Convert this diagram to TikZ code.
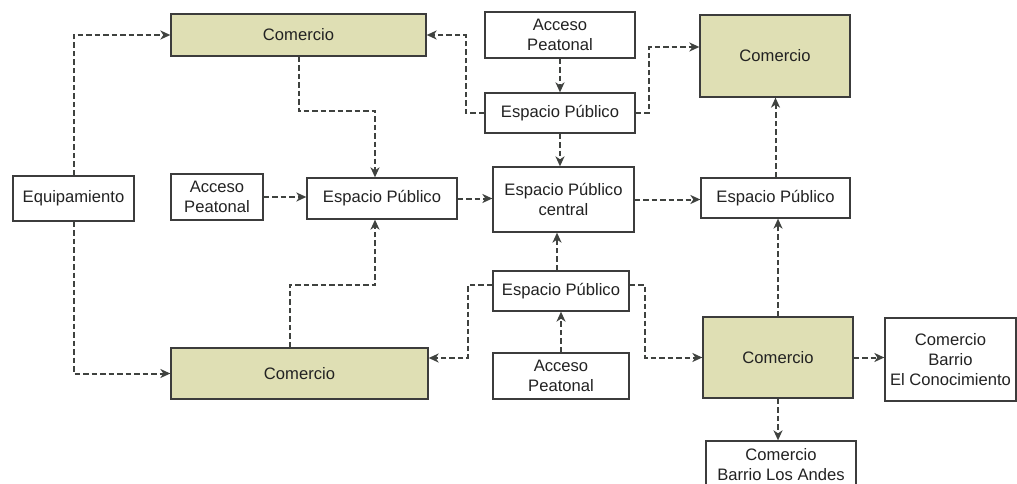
\documentclass[tikz,border=0pt]{standalone}
\usepackage{fontspec}
\setmainfont{Liberation Sans}
\usetikzlibrary{arrows.meta}
\definecolor{olivefill}{HTML}{DFDFB4}
\definecolor{edge}{HTML}{3C3C3C}
\definecolor{linkcol}{HTML}{3F423F}
\definecolor{txt}{HTML}{222222}
\tikzset{
  box/.style={draw=edge, line width=1.3pt, fill=white, text=txt, align=center,
    inner sep=0pt, font=\fontsize{16.6}{20}\selectfont},
  shop/.style={box, fill=olivefill},
  link/.style={draw=linkcol, line width=2pt, dash pattern=on 5.5pt off 3pt,
    -{Stealth[length=10pt, width=9pt, inset=3pt]}},
}
\newcommand{\bx}[6]{% style, name, cx, cy, w, h
  \node[#1, minimum width=#5pt, minimum height=#6pt] (#2) at (#3,#4)}
\begin{document}
\begin{tikzpicture}[x=1pt, y=-1pt]
\useasboundingbox (0,0) rectangle (1017,484);

% boxes
\bx{shop}{comTL}{298.5}{35}{255}{42} {Comercio};
\bx{box}{equip}{73.5}{198.5}{121}{45} {Equipamiento};
\bx{box}{accL}{217}{197}{92}{46} {Acceso\\Peatonal};
\bx{box}{epL}{382}{198.5}{150}{41} {Espacio Público};
\bx{box}{accT}{560}{35}{150}{46} {Acceso\\Peatonal};
\bx{box}{epT}{560}{113}{150}{40} {Espacio Público};
\bx{box}{central}{563.5}{199.5}{141}{65} {Espacio Público\\central};
\bx{shop}{comTR}{775}{56}{150}{82} {Comercio};
\bx{box}{epR}{775.5}{198}{149}{40} {Espacio Público};
\bx{shop}{comBL}{299.5}{373.5}{257}{51} {Comercio};
\bx{box}{epB}{561}{291}{136}{40} {Espacio Público};
\bx{box}{accB}{561}{376}{136}{46} {Acceso\\Peatonal};
\bx{shop}{comBR}{778}{357.5}{150}{81} {Comercio};
\bx{box}{conoc}{950.5}{359.5}{131}{83} {Comercio\\Barrio\\El Conocimiento};
\bx{box}{andes}{781}{465}{150}{48} {Comercio\\Barrio Los Andes};

% connectors
\draw[link] (equip.north) |- (comTL.west);
\draw[link] (equip.south) |- (comBL.west);
\draw[link] (comTL.south) |- (375,111) -- ([xshift=-7pt]epL.north);
\draw[link] (accL.east) -- (accL.east -| epL.west);
\draw[link] (epL.east) -- (epL.east -| central.west);
\draw[link] (accT.south) -- (epT.north);
\draw[link] (epT.south) -- (epT.south |- central.north);
\draw[link] (epT.west) -- (466,113) |- (comTL.east);
\draw[link] (epT.east) -- (649,113) |- ([yshift=9pt]comTR.west);
\draw[link] (central.east) -- (central.east -| epR.west);
\draw[link] (epR.north) -- (epR.north |- comTR.south);
\draw[link] (comBR.north) -- (comBR.north |- epR.south);
\draw[link] ([xshift=-4pt]epB.north) -- ([xshift=-4pt]epB.north |- central.south);
\draw[link] (accB.north) -- (epB.south);
\draw[link] ([yshift=6pt]epB.west) -- (468,285) |- ([yshift=15.5pt]comBL.east);
\draw[link] ([yshift=6pt]epB.east) -- (645,285) |- (comBR.west);
\draw[link] ([xshift=-10pt]comBL.north) |- (375,285) -- ([xshift=-7pt]epL.south);
\draw[link] (comBR.east) -- (comBR.east -| conoc.west);
\draw[link] (comBR.south) -- (comBR.south |- andes.north);
\end{tikzpicture}
\end{document}
